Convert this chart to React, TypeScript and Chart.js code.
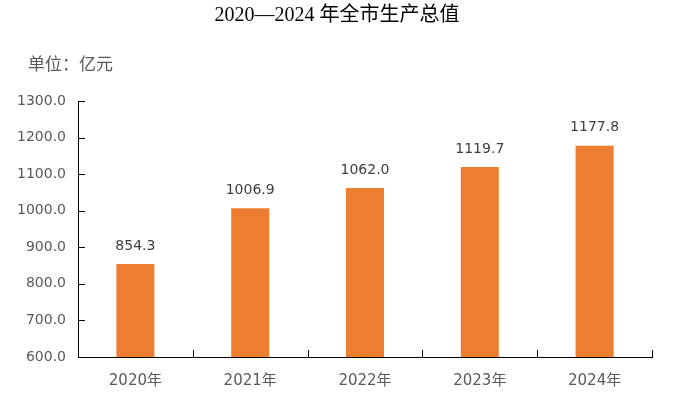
import React, { useEffect, useRef } from "react";
import { Chart, registerables } from "chart.js";

Chart.register(...registerables);

const categories = ["2020年", "2021年", "2022年", "2023年", "2024年"];
const gdpValues = [854.3, 1006.9, 1062.0, 1119.7, 1177.8];
const yTickMin = 600;
const yTickMax = 1300;
const yTickStep = 100;
const titleText = "2020—2024 年全市生产总值";
const unitText = "单位：亿元";

const SANS = "'DejaVu Sans', 'Noto Sans CJK SC', sans-serif";

const decorPlugin = {
  id: "decor",
  afterDraw(chart: any) {
    const ctx = chart.ctx;
    const x = chart.scales.x;
    const y = chart.scales.y;
    const area = chart.chartArea;
    ctx.save();
    ctx.strokeStyle = "#000000";
    ctx.lineWidth = 1;
    // inward y ticks
    y.ticks.forEach((_t: any, i: number) => {
      const py = Math.round(y.getPixelForTick(i)) + 0.5;
      ctx.beginPath();
      ctx.moveTo(area.left, py);
      ctx.lineTo(area.left + 7, py);
      ctx.stroke();
    });
    // inward x ticks at category boundaries
    const n = x.ticks.length;
    for (let i = 1; i <= n; i++) {
      const px =
        i < n
          ? (x.getPixelForTick(i - 1) + x.getPixelForTick(i)) / 2
          : area.right;
      const rx = Math.round(px) + 0.5;
      ctx.beginPath();
      ctx.moveTo(rx, area.bottom);
      ctx.lineTo(rx, area.bottom - 7);
      ctx.stroke();
    }
    // data labels
    const meta = chart.getDatasetMeta(0);
    ctx.fillStyle = "#404040";
    ctx.font = `14px ${SANS}`;
    ctx.textAlign = "center";
    ctx.textBaseline = "middle";
    meta.data.forEach((el: any, i: number) => {
      ctx.fillText(gdpValues[i].toFixed(1), el.x, el.y - 18);
    });
    // title
    ctx.fillStyle = "#000000";
    ctx.font = `20px 'Liberation Serif', 'Noto Sans CJK SC', serif`;
    ctx.textAlign = "center";
    ctx.fillText(titleText, 337, 16);
    // unit
    ctx.fillStyle = "#595959";
    ctx.font = `17px ${SANS}`;
    ctx.textAlign = "left";
    ctx.fillText(unitText, 28, 66);
    ctx.restore();
  },
};

export default function App() {
  const ref = useRef<HTMLCanvasElement | null>(null);
  useEffect(() => {
    if (!ref.current) return;
    const chart = new Chart(ref.current, {
      type: "bar",
      data: {
        labels: categories,
        datasets: [
          {
            data: gdpValues,
            backgroundColor: "#ED7D31",
            barPercentage: 0.331,
            categoryPercentage: 1,
          },
        ],
      },
      options: {
        animation: false,
        responsive: false,
        maintainAspectRatio: false,
        layout: { padding: { top: 101, right: 22, left: 0, bottom: 0 } },
        plugins: {
          legend: { display: false },
          title: { display: false },
          tooltip: { enabled: false },
        },
        scales: {
          x: {
            offset: true,
            grid: { display: true, drawOnChartArea: false, drawTicks: false },
            border: { display: true, color: "#000000", width: 1 },
            ticks: {
              color: "#595959",
              font: { family: SANS, size: 15 },
              padding: 15,
            },
            afterFit: (s: any) => {
              s.height = 41;
            },
          },
          y: {
            min: yTickMin,
            max: yTickMax,
            grid: { display: true, drawOnChartArea: false, drawTicks: false },
            border: { display: true, color: "#000000", width: 1 },
            ticks: {
              stepSize: yTickStep,
              color: "#595959",
              font: { family: SANS, size: 14 },
              padding: 12,
              callback: (v: any) => Number(v).toFixed(1),
            },
            afterFit: (s: any) => {
              s.width = 78;
            },
          },
        },
      },
      plugins: [decorPlugin],
    });
    return () => chart.destroy();
  }, []);
  return (
    <div style={{ position: "fixed", left: 0, top: 0, width: 674, height: 398, background: "#ffffff" }}>
      <canvas ref={ref} width={674} height={398} style={{ width: 674, height: 398 }} />
    </div>
  );
}
